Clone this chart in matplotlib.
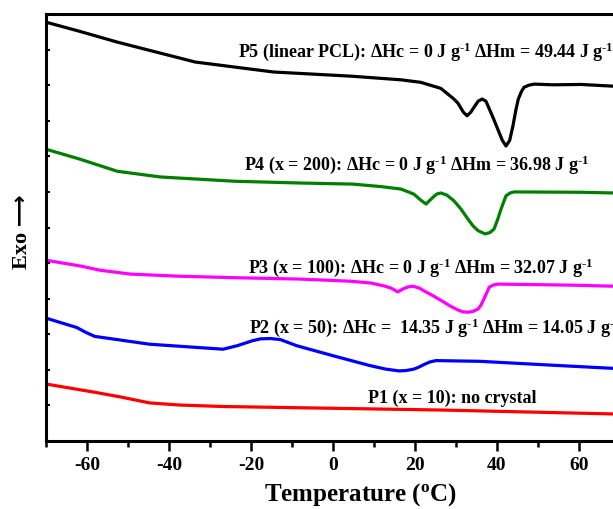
import matplotlib

matplotlib.use("Agg")

import matplotlib.pyplot as plt
from matplotlib.ticker import MultipleLocator, NullFormatter

plt.rcParams["font.family"] = ["Liberation Serif", "DejaVu Sans"]
plt.rcParams["font.weight"] = "bold"
plt.rcParams["axes.unicode_minus"] = False
plt.rcParams["mathtext.fontset"] = "custom"
plt.rcParams["mathtext.rm"] = "Liberation Serif:bold"
plt.rcParams["mathtext.bf"] = "Liberation Serif:bold"
plt.rcParams["mathtext.default"] = "bf"

# DSC heating traces (arbitrary, stacked heat-flow units)
p5_t = [-70, -62.0, -52.6, -33.6, -14.5, 4.8, 16.6, 21.4, 26.3, 29.5, 30.5, 31.8, 32.7,
        33.6, 34.4, 35.4, 36.4, 37.3, 37.8, 39.0, 40.2, 41.3, 42.2, 43.1, 43.9,
        44.6, 45.2, 46.0, 46.6, 47.8, 49.1, 53.6, 60.5, 68.6]
p5_y = [11.77, 11.52, 11.21, 10.65, 10.37, 10.25, 10.15, 10.08, 9.91, 9.61, 9.49, 9.24, 9.14,
        9.24, 9.38, 9.55, 9.61, 9.55, 9.42, 9.10, 8.76, 8.45, 8.29, 8.45, 8.86,
        9.30, 9.61, 9.83, 9.94, 10.0, 10.03, 10.01, 10.02, 9.97]

p4_t = [-70, -61.7, -52.6, -42.1, -24.0, -7.9, 4.8, 11.7, 16.6, 19.7, 21.4, 22.7,
        23.4, 24.4, 25.3, 26.3, 27.8, 29.5, 31.2, 32.9, 34.2, 35.4, 37.1, 38.3,
        39.3, 40.2, 41.0, 41.7, 42.2, 43.2, 44.2, 60.5, 68.6]
p4_y = [8.20, 7.92, 7.58, 7.42, 7.30, 7.25, 7.22, 7.15, 7.08, 6.94, 6.77, 6.66,
        6.74, 6.85, 6.94, 6.97, 6.91, 6.75, 6.52, 6.24, 6.04, 5.91, 5.82, 5.86,
        5.96, 6.24, 6.52, 6.74, 6.89, 6.97, 7.00, 6.99, 6.97]

p3_t = [-70, -61.7, -56.8, -49.4, -37.2, -24.0, -7.9, 4.3, 9.2, 12.4, 14.1, 15.8,
        17.0, 18.3, 19.5, 21.0, 22.2, 24.6, 27.1, 28.8, 30.5, 31.7, 32.9, 34.1,
        35.4, 36.1, 36.8, 37.6, 38.1, 39.0, 40.2, 58.1, 68.6]
p3_y = [5.08, 4.92, 4.80, 4.69, 4.63, 4.59, 4.55, 4.49, 4.44, 4.36, 4.30, 4.19,
        4.27, 4.33, 4.35, 4.30, 4.22, 4.07, 3.90, 3.78, 3.68, 3.63, 3.62, 3.64,
        3.71, 3.82, 3.99, 4.19, 4.32, 4.38, 4.41, 4.38, 4.35]

p2_t = [-69.9, -62.5, -60.4, -58.1, -44.7, -26.8, -23.3, -19.6, -17.7, -15.2, -12.8,
        -8.9, -0.1, 9.0, 12.9, 16.1, 17.8, 19.7, 21.0, 22.4, 23.6, 25.1, 35.8, 53.6, 68.6]
p2_y = [3.45, 3.19, 3.06, 2.94, 2.72, 2.58, 2.68, 2.82, 2.87, 2.88, 2.85,
        2.68, 2.40, 2.12, 2.02, 1.97, 1.98, 2.02, 2.08, 2.16, 2.22, 2.26, 2.24, 2.13, 2.04]

p1_t = [-69.9, -58.1, -51.9, -44.7, -37.2, -26.8, -0.1, 26.8, 68.6]
p1_y = [1.60, 1.37, 1.24, 1.07, 1.01, 0.97, 0.92, 0.87, 0.76]

series = [
    (p5_t, p5_y, "black"),
    (p4_t, p4_y, "#008000"),
    (p3_t, p3_y, "#ff00ff"),
    (p2_t, p2_y, "#0000ff"),
    (p1_t, p1_y, "#ff0000"),
]

sup = r"$^{\text{-}1}$"
labels = [
    (-23.1, 10.96, f"P5 (linear PCL): ΔHc = 0 J g{sup} ΔHm = 49.44 J g{sup}"),
    (-21.8, 7.78, f"P4 (x = 200): ΔHc = 0 J g{sup} ΔHm = 36.98 J g{sup}"),
    (-20.8, 4.89, f"P3 (x = 100): ΔHc = 0 J g{sup} ΔHm = 32.07 J g{sup}"),
    (-20.5, 3.20, f"P2 (x = 50): ΔHc =  14.35 J g{sup} ΔHm = 14.05 J g{sup}"),
    (8.6, 1.24, "P1 (x = 10): no crystal"),
]

fig = plt.figure(figsize=(6.13, 5.10), dpi=100)
ax = fig.add_axes([0.075, 0.1333, 0.9364, 0.8373])

for t, y, color in series:
    ax.plot(t, y, color=color, lw=2.3, solid_capstyle="round")

for x, y, text in labels:
    ax.text(x, y, text, fontsize=13, fontweight="bold", ha="left", va="center")

ax.set_xlim(-70, 70)
ax.set_ylim(0, 12)
ax.xaxis.set_major_locator(MultipleLocator(20))
ax.xaxis.set_minor_locator(MultipleLocator(10))
ax.yaxis.set_major_locator(MultipleLocator(1))
ax.yaxis.set_major_formatter(NullFormatter())
ax.tick_params(axis="x", which="major", direction="out", length=7, width=1.8,
               labelsize=14, pad=4)
ax.tick_params(axis="x", which="minor", direction="out", length=4, width=1.8)
ax.tick_params(axis="y", which="major", direction="in", length=3, width=1.5)
for spine in ax.spines.values():
    spine.set_linewidth(2.2)

fig.text(361 / 613, 1 - 495 / 510, r"Temperature ($^{o}$C)", fontsize=18,
         fontweight="bold", ha="center", va="center")
fig.text(22 / 613, 1 - 232 / 510, "Exo ⟶", fontsize=16, fontweight="bold",
         rotation=90, ha="center", va="center")

fig.savefig("out.png", dpi=100)
plt.close(fig)
